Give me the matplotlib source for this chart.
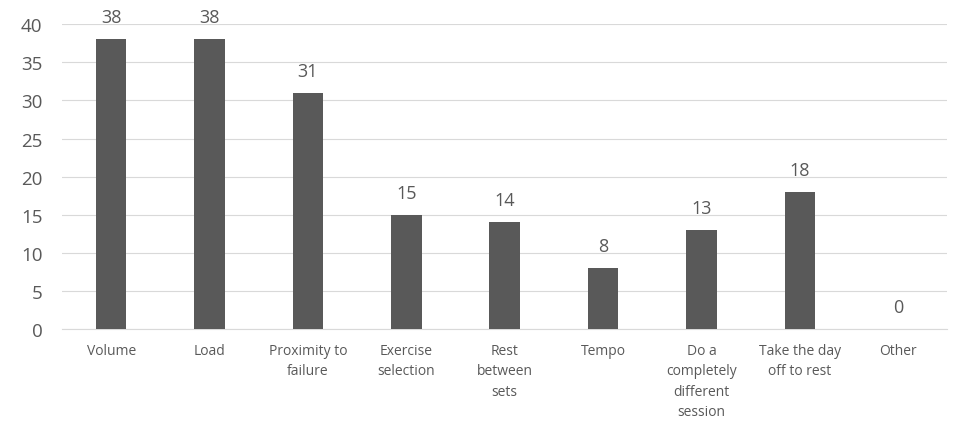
import matplotlib
matplotlib.use("Agg")
from matplotlib import pyplot as plt

categories = ["Volume", "Load", "Proximity to\nfailure", "Exercise\nselection",
              "Rest\nbetween\nsets", "Tempo", "Do a\ncompletely\ndifferent\nsession",
              "Take the day\noff to rest", "Other"]
counts = [38, 38, 31, 15, 14, 8, 13, 18, 0]
y_ticks = [0, 5, 10, 15, 20, 25, 30, 35, 40]

text_color = "#595959"
bar_color = "#595959"
grid_color = "#d9d9d9"

plt.rcParams["font.family"] = ["Open Sans", "DejaVu Sans"]

fig = plt.figure(figsize=(9.54, 4.27), dpi=100)
ax = fig.add_axes([0.065, 0.227, 0.928, 0.714])

x = range(len(categories))
bars = ax.bar(x, counts, width=0.31, color=bar_color, zorder=3)

# value labels above each bar
for xi, v in zip(x, counts):
    ax.text(xi, v + 1.7, str(v), ha="center", va="bottom",
            fontsize=13, color=text_color)

ax.set_xlim(-0.5, len(categories) - 0.5)
ax.set_ylim(0, 40)
ax.set_yticks(y_ticks)
ax.set_xticks(list(x))
ax.set_xticklabels(categories, fontsize=10, color=text_color, linespacing=1.5)
ax.tick_params(axis="y", labelsize=13.5, labelcolor=text_color, length=0, pad=14)
ax.tick_params(axis="x", length=0, pad=10)
for t in ax.get_xticklabels():
    t.set_verticalalignment("top")

ax.yaxis.grid(True, color=grid_color, linewidth=0.8, zorder=0)
for s in ["top", "right", "left"]:
    ax.spines[s].set_visible(False)
ax.spines["bottom"].set_color(grid_color)

fig.savefig("out.png", dpi=100)
